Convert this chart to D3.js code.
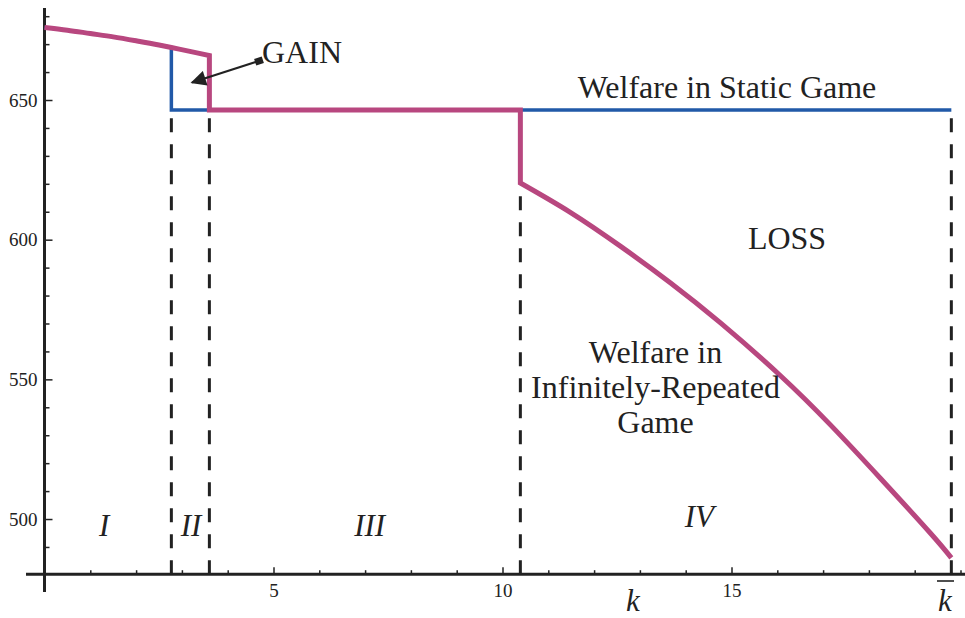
<!DOCTYPE html>
<html>
<head>
<meta charset="utf-8">
<script src="https://cdn.jsdelivr.net/npm/d3@7"></script>
<style>
  html, body { margin: 0; padding: 0; background: #fff; }
  svg { display: block; }
  text { font-family: "Liberation Serif", "DejaVu Serif", serif; fill: #222; }
</style>
</head>
<body>
<svg id="chart" width="965" height="618"></svg>
<script>
// ---------------- data ----------------
// Region I/II: common curve (welfare above the static level)
const curveK = [0, 0.5, 1, 1.5, 2, 2.5, 2.77];
const curveW = [676.0, 675.0, 673.8, 672.6, 671.2, 669.7, 668.8];
// continuation of repeated-game curve to end of region II
const gainK = [2.77, 3.2, 3.6];
const gainW = [668.8, 667.3, 665.9];
// static-game welfare level
const staticLevel = 646.4;
// region boundaries
const kBounds = [2.77, 3.6, 10.39, 19.8];
// region IV curve (repeated game welfare)
const lossK = [10.39, 11.48, 12.58, 13.67, 14.76, 16.07, 17.16, 18.25, 19.34, 19.8];
const lossW = [620.3, 609.8, 597.6, 584.5, 570.2, 551.3, 533.7, 514.6, 495.0, 486.1];
// axis ticks
const yMajorTicks = [500, 550, 600, 650];
const yMinorTicks = [490, 510, 520, 530, 540, 560, 570, 580, 590, 610, 620, 630, 640, 660, 670, 680];
const xMajorTicks = [5, 10, 15];
const xMinorTicks = [1, 2, 3, 4, 6, 7, 8, 9, 11, 12, 13, 14, 16, 17, 18, 19, 20];
const regionLabels = ["I", "II", "III", "IV"];
const regionLabelK = [1.3, 3.2, 7.1, 14.3];
const regionLabelW = [494, 494, 494, 497];

// ---------------- scales ----------------
const x = d3.scaleLinear().domain([0, 20]).range([44.5, 960.5]);
const y = d3.scaleLinear().domain([480, 680]).range([574.9, 16.2]);
const svg = d3.select("#chart");

const MAGENTA = "#b8477f";
const BLUE = "#2159a8";
const INK = "#222";
const SERIF = "'Liberation Serif', 'DejaVu Serif', serif";

// ---------------- axes ----------------
function styleAxis(g) {
  g.attr("font-family", SERIF).attr("font-size", 19);
  g.select(".domain").remove();
  g.selectAll(".tick line").attr("stroke", INK).attr("stroke-width", 1.5);
  g.selectAll(".tick text").attr("fill", "#1a1a1a")
    .style("font-family", SERIF).style("font-size", "19px");
}
svg.append("g").attr("transform", `translate(${x(0)},0)`)
  .call(d3.axisLeft(y).tickValues(yMinorTicks).tickSize(-5).tickFormat(""))
  .call(styleAxis);
svg.append("g").attr("transform", `translate(${x(0)},0)`)
  .call(d3.axisLeft(y).tickValues(yMajorTicks).tickSize(-8).tickPadding(7).tickFormat(d3.format("d")))
  .call(styleAxis);

const xAxisY = y(480.25);
svg.append("g").attr("transform", `translate(0,${xAxisY})`)
  .call(d3.axisBottom(x).tickValues(xMinorTicks).tickSize(-4).tickFormat(""))
  .call(styleAxis);
svg.append("g").attr("transform", `translate(0,${xAxisY})`)
  .call(d3.axisBottom(x).tickValues(xMajorTicks).tickSize(-7).tickPadding(9).tickFormat(d3.format("d")))
  .call(styleAxis);

// axis lines
svg.append("line").attr("x1", x(0)).attr("x2", x(0)).attr("y1", 8).attr("y2", 592)
  .attr("stroke", INK).attr("stroke-width", 3);
svg.append("line").attr("x1", 26).attr("x2", 965).attr("y1", xAxisY).attr("y2", xAxisY)
  .attr("stroke", INK).attr("stroke-width", 3);

// ---------------- dashed boundaries ----------------
const dashTop = [staticLevel, staticLevel, lossW[0], staticLevel];
svg.append("g").selectAll("line").data(kBounds).join("line")
  .attr("x1", d => x(d)).attr("x2", d => x(d))
  .attr("y1", xAxisY).attr("y2", (d, i) => y(dashTop[i]) + 3)
  .attr("stroke", INK).attr("stroke-width", 3)
  .attr("stroke-dasharray", "14,12");

// ---------------- lines ----------------
const lineGen = d3.line().x(d => x(d[0])).y(d => y(d[1])).curve(d3.curveMonotoneX);
const natLine = d3.line().x(d => x(d[0])).y(d => y(d[1])).curve(d3.curveNatural);
const linLine = d3.line().x(d => x(d[0])).y(d => y(d[1]));
const zip = (a, b) => a.map((v, i) => [v, b[i]]);
const join = (...parts) => parts.map((p, i) => i === 0 ? p : p.replace(/^M/, "L")).join("");

// static game welfare (blue)
const staticPath = join(
  lineGen(zip(curveK, curveW)),
  linLine([[kBounds[0], staticLevel], [kBounds[3], staticLevel]])
);
svg.append("path").attr("d", staticPath).attr("fill", "none")
  .attr("stroke", BLUE).attr("stroke-width", 3.5).attr("stroke-linejoin", "miter");

// infinitely-repeated game welfare (magenta)
const repPath = join(
  lineGen(zip(curveK, curveW)),
  lineGen(zip(gainK, gainW)),
  linLine([[kBounds[1], staticLevel], [kBounds[2], staticLevel]]),
  natLine(zip(lossK, lossW))
);
svg.append("path").attr("d", repPath).attr("fill", "none")
  .attr("stroke", MAGENTA).attr("stroke-width", 5).attr("stroke-linejoin", "miter");

// ---------------- labels ----------------
svg.append("g").selectAll("text").data(regionLabels).join("text")
  .attr("x", (d, i) => x(regionLabelK[i])).attr("y", (d, i) => y(regionLabelW[i]))
  .attr("text-anchor", "middle").style("font-style", "italic").style("font-size", "31px")
  .text(d => d);

svg.append("text").attr("x", 727).attr("y", 98).attr("text-anchor", "middle")
  .style("font-size", "32px").text("Welfare in Static Game");

svg.append("text").attr("x", 787).attr("y", 249).attr("text-anchor", "middle")
  .style("font-size", "32px").text("LOSS");

const rep = svg.append("text").attr("text-anchor", "middle").style("font-size", "32px");
["Welfare in", "Infinitely-Repeated", "Game"].forEach((t, i) => {
  rep.append("tspan").attr("x", 655.5).attr("y", 363 + i * 35).text(t);
});

svg.append("text").attr("x", 262).attr("y", 63).style("font-size", "32px").text("GAIN");

// GAIN arrow
svg.append("defs").append("marker").attr("id", "ah")
  .attr("viewBox", "0 0 10 10").attr("refX", 9).attr("refY", 5)
  .attr("markerWidth", 8).attr("markerHeight", 7).attr("markerUnits", "strokeWidth")
  .attr("orient", "auto")
  .append("path").attr("d", "M0,0 L10,5 L0,10 Z").attr("fill", INK);
svg.append("line").attr("x1", 259).attr("y1", 61).attr("x2", 192).attr("y2", 82.5)
  .attr("stroke", INK).attr("stroke-width", 2.2).attr("marker-end", "url(#ah)");
svg.append("rect").attr("x", -4).attr("y", -3.5).attr("width", 8).attr("height", 7)
  .attr("fill", INK).attr("transform", "translate(259,61) rotate(-18)");

// axis name labels
svg.append("text").attr("x", 633).attr("y", 611).attr("text-anchor", "middle")
  .style("font-style", "italic").style("font-size", "31px").text("k");
svg.append("text").attr("x", 945).attr("y", 611).attr("text-anchor", "middle")
  .style("font-style", "italic").style("font-size", "31px").text("k");
svg.append("line").attr("x1", 937).attr("x2", 954).attr("y1", 581).attr("y2", 581)
  .attr("stroke", INK).attr("stroke-width", 1.6);
</script>
</body>
</html>
